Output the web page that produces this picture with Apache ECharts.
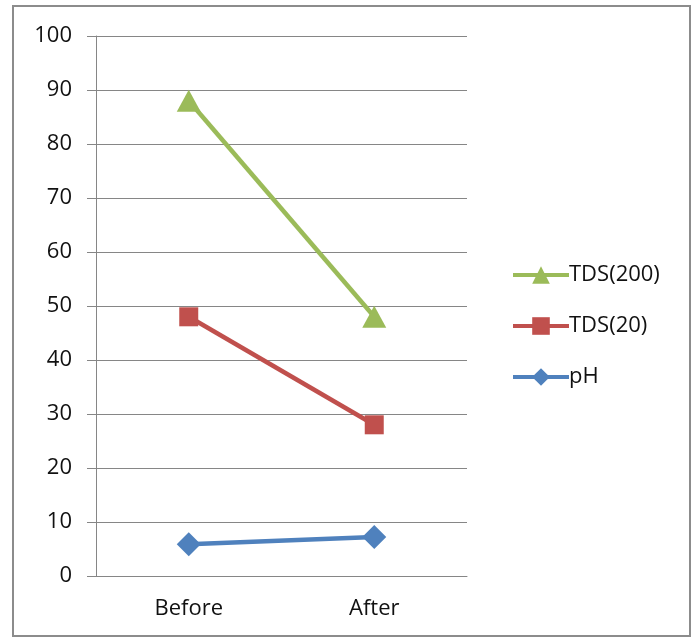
<!DOCTYPE html>
<html><head><meta charset="utf-8">
<script src="https://cdn.jsdelivr.net/npm/echarts@6/dist/echarts.min.js"></script>
<style>html,body{margin:0;padding:0;background:#fff}#c{width:697px;height:638px}</style>
</head><body><div id="c"></div>
<script>
var categories = ['Before', 'After'];
var tds200 = [88, 48];
var tds20 = [48, 28];
var ph = [5.9, 7.2];
var legendOrder = ['TDS(200)', 'TDS(20)', 'pH'];
var yTicks = {min: 0, max: 100, interval: 10};

var chart = echarts.init(document.getElementById('c'));
var font = 'Open Sans, Liberation Sans, sans-serif';
chart.setOption({
  animation: false,
  graphic: [{type: 'rect', shape: {x: 13, y: 6, width: 677, height: 630}, style: {fill: 'none', stroke: '#8c8c8c', lineWidth: 2}, z: -1}],
  grid: {left: 96, top: 36, width: 371, height: 540, containLabel: false},
  legend: {
    data: legendOrder, orient: 'vertical', left: 506, top: 259, itemGap: 29,
    itemWidth: 56, itemHeight: 22,
    lineStyle: {width: 4},
    textStyle: {fontFamily: font, fontSize: 22, color: '#111', padding: [0, 0, 0, -5]}
  },
  xAxis: {
    type: 'category', data: categories, boundaryGap: true,
    axisLine: {lineStyle: {color: '#868686', width: 1}},
    axisTick: {length: 7, lineStyle: {color: '#868686'}},
    axisLabel: {fontFamily: font, fontSize: 22, color: '#111', margin: 22}
  },
  yAxis: {
    type: 'value', min: yTicks.min, max: yTicks.max, interval: yTicks.interval,
    axisLine: {show: true, lineStyle: {color: '#868686'}},
    axisTick: {show: true, length: 9, lineStyle: {color: '#868686'}},
    splitLine: {lineStyle: {color: '#868686'}},
    axisLabel: {fontFamily: font, fontSize: 22, color: '#111', margin: 24}
  },
  series: [
    {name: 'pH', type: 'line', data: ph, symbol: 'diamond', symbolSize: 24,
     itemStyle: {color: '#4F81BD'}, lineStyle: {width: 4.5, color: '#4F81BD'}},
    {name: 'TDS(20)', type: 'line', data: tds20, symbol: 'rect', symbolSize: 19,
     itemStyle: {color: '#C0504D'}, lineStyle: {width: 4.5, color: '#C0504D'}},
    {name: 'TDS(200)', type: 'line', data: tds200, symbol: 'triangle', symbolSize: [24, 22],
     itemStyle: {color: '#9BBB59'}, lineStyle: {width: 4.5, color: '#9BBB59'}}
  ]
});
</script></body></html>
